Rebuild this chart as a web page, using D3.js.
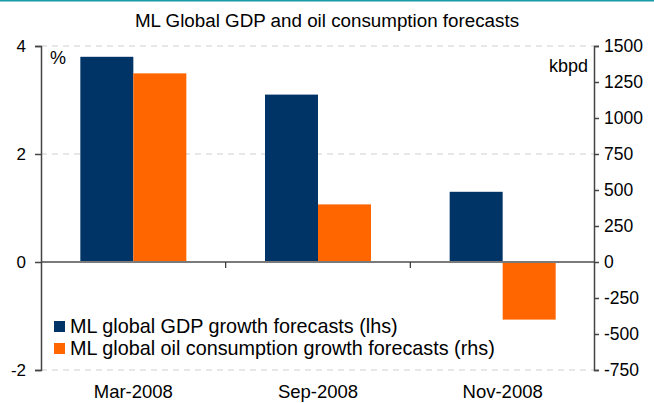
<!DOCTYPE html>
<html>
<head>
<meta charset="utf-8">
<script src="https://cdn.jsdelivr.net/npm/d3@7"></script>
<style>
  html, body { margin: 0; padding: 0; background: #fff; }
  svg { display: block; font-family: "Liberation Sans", Arial, sans-serif; }
</style>
</head>
<body>
<svg id="chart" width="654" height="403"></svg>
<script>
// Forecast dates and the two forecast series
const categories = ["Mar-2008", "Sep-2008", "Nov-2008"];
const gdpGrowth = [3.8, 3.1, 1.3];          // % (left axis)
const oilGrowth = [1310, 400, -400];        // kbpd (right axis)
const leftTicks = [-2, 0, 2, 4];
const rightTicks = [-750, -500, -250, 0, 250, 500, 750, 1000, 1250, 1500];
const seriesNames = [
  "ML global GDP growth forecasts (lhs)",
  "ML global oil consumption growth forecasts (rhs)"
];
const colors = ["#003366", "#ff6600"];

const svg = d3.select("#chart");
const plotLeft = 41, plotRight = 595, plotTop = 46, plotBottom = 370;
const plainNum = d => String(d);   // keep ASCII hyphen for negatives

// top rule
svg.append("rect").attr("x", 0).attr("y", 0).attr("width", 654).attr("height", 1.5).attr("fill", "#159ca8");

svg.append("text")
  .attr("x", 327).attr("y", 27)
  .attr("text-anchor", "middle")
  .attr("font-size", 18.8)
  .attr("fill", "#000")
  .text("ML Global GDP and oil consumption forecasts");

const yL = d3.scaleLinear().domain([-2, 4]).range([plotBottom, plotTop]);
const yR = d3.scaleLinear().domain([-750, 1500]).range([plotBottom, plotTop]);
const x0 = d3.scaleBand().domain(categories).range([plotLeft, plotRight]).padding(0);
const x1 = d3.scaleBand().domain([0, 1]).range([0, x0.bandwidth()]).paddingInner(0).paddingOuter(0.742);

// dashed gridlines
svg.append("g").selectAll("line")
  .data(leftTicks.filter(d => d !== 0))
  .join("line")
  .attr("x1", plotLeft).attr("x2", plotRight - 1)
  .attr("y1", d => yL(d)).attr("y2", d => yL(d))
  .attr("stroke", "#cfcfcf").attr("stroke-width", 1)
  .attr("stroke-dasharray", "6,5");

// bars
const rows = categories.map((c, i) => ({ c, vals: [gdpGrowth[i], oilGrowth[i]] }));
const groups = svg.append("g").selectAll("g")
  .data(rows).join("g")
  .attr("transform", d => `translate(${x0(d.c)},0)`);
groups.selectAll("rect")
  .data(d => d.vals.map((v, k) => ({ v, k })))
  .join("rect")
  .attr("x", d => x1(d.k))
  .attr("width", x1.bandwidth())
  .attr("y", d => {
    const s = d.k === 0 ? yL : yR;
    return Math.min(s(d.v), s(0));
  })
  .attr("height", d => {
    const s = d.k === 0 ? yL : yR;
    return Math.abs(s(d.v) - s(0));
  })
  .attr("fill", d => colors[d.k]);

// zero line
svg.append("line")
  .attr("x1", plotLeft).attr("x2", plotRight)
  .attr("y1", yL(0)).attr("y2", yL(0))
  .attr("stroke", "#7a7a7a").attr("stroke-width", 2);

// category separator ticks
svg.append("g").selectAll("line")
  .data(categories.slice(1))
  .join("line")
  .attr("x1", d => x0(d)).attr("x2", d => x0(d))
  .attr("y1", yL(0)).attr("y2", yL(0) + 6)
  .attr("stroke", "#333").attr("stroke-width", 1.2);

// left axis
const axL = svg.append("g").attr("transform", `translate(${plotLeft},0)`)
  .call(d3.axisLeft(yL).tickValues(leftTicks).tickSize(6).tickPadding(9).tickFormat(plainNum));
axL.select(".domain").attr("stroke", "#444").attr("stroke-width", 1.5);
axL.selectAll(".tick line").attr("stroke", "#444").attr("stroke-width", 1.5);
axL.selectAll("text").attr("font-size", 17).attr("fill", "#000").attr("font-family", "Liberation Sans, Arial, sans-serif");

// right axis
const axR = svg.append("g").attr("transform", `translate(${plotRight - 1},0)`)
  .call(d3.axisRight(yR).tickValues(rightTicks).tickSize(5).tickPadding(5).tickFormat(plainNum));
axR.select(".domain").attr("stroke", "#444").attr("stroke-width", 1.5);
axR.selectAll(".tick line").attr("stroke", "#444").attr("stroke-width", 1.5);
axR.selectAll("text").attr("font-size", 17.5).attr("fill", "#000").attr("font-family", "Liberation Sans, Arial, sans-serif");

// unit labels
svg.append("text").attr("x", 50).attr("y", 64).attr("font-size", 18).attr("fill", "#000").text("%");
svg.append("text").attr("x", 588).attr("y", 72).attr("text-anchor", "end").attr("font-size", 18).attr("fill", "#000").text("kbpd");

// category labels
svg.append("g").selectAll("text")
  .data(categories).join("text")
  .attr("x", d => x0(d) + x0.bandwidth() / 2)
  .attr("y", 398)
  .attr("text-anchor", "middle")
  .attr("font-size", 18.5)
  .attr("fill", "#000")
  .text(d => d);

// legend
const lg = svg.append("g").attr("transform", "translate(54,321)");
const items = lg.selectAll("g").data(seriesNames).join("g")
  .attr("transform", (d, i) => `translate(0,${i * 22})`);
items.append("rect").attr("width", 11).attr("height", 11).attr("fill", (d, i) => colors[i]);
items.append("text").attr("x", 16).attr("y", 12).attr("font-size", 19.8).attr("fill", "#000").text(d => d);
</script>
</body>
</html>
